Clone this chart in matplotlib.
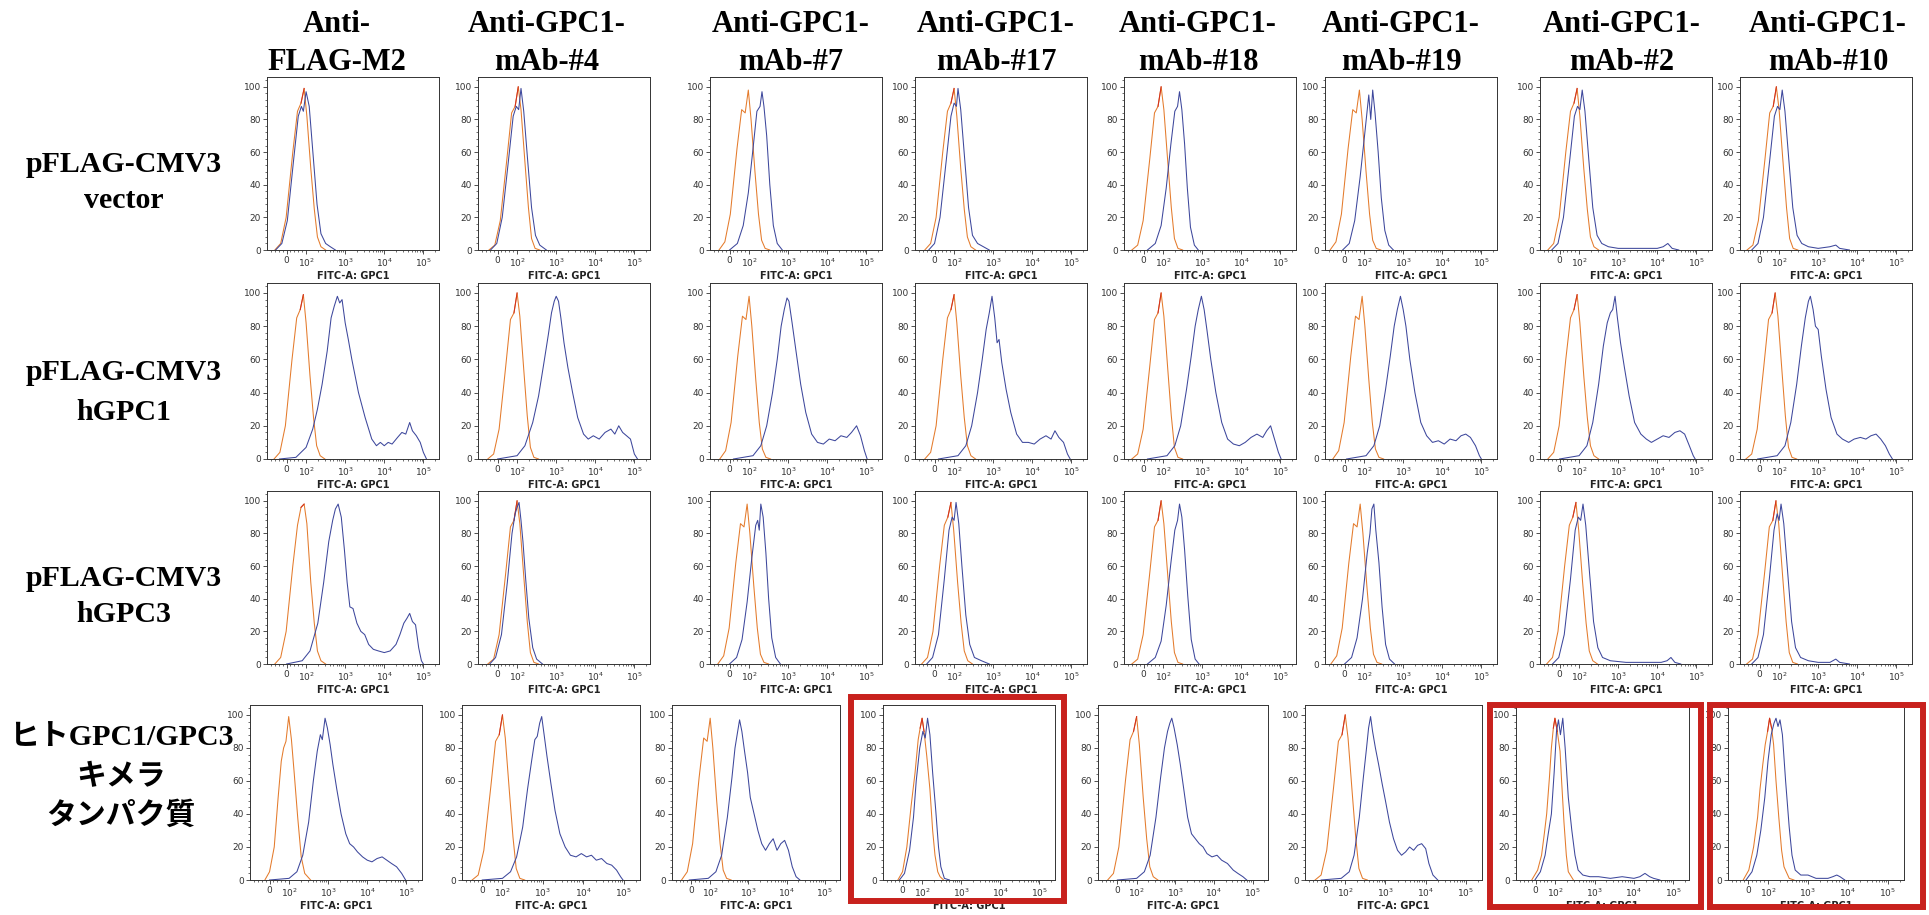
import matplotlib.pyplot as plt
import numpy as np
from matplotlib.patches import Rectangle
from matplotlib.ticker import FixedLocator, MultipleLocator

W, H = 1929, 915

# ---- texts ----
head_top = ['Anti-', 'Anti-GPC1-', 'Anti-GPC1-', 'Anti-GPC1-', 'Anti-GPC1-', 'Anti-GPC1-', 'Anti-GPC1-', 'Anti-GPC1-']
head_bottom = ['FLAG-M2', 'mAb-#4', 'mAb-#7', 'mAb-#17', 'mAb-#18', 'mAb-#19', 'mAb-#2', 'mAb-#10']
row_labels = [['pFLAG-CMV3', 'vector'],
              ['pFLAG-CMV3', 'hGPC1'],
              ['pFLAG-CMV3', 'hGPC3'],
              ['ヒトGPC1/GPC3', 'キメラ', 'タンパク質']]
x_label = 'FITC-A: GPC1'
x_tick_pos = [1.5, 2, 3, 4, 5]
x_tick_lab = ['0', '$10^2$', '$10^3$', '$10^4$', '$10^5$']

# ---- data: (x in decade display units, % of max) ----
# row 1 : pFLAG-CMV3 vector
r1_ctrl = [
    ([1.20, 1.35, 1.49, 1.66, 1.78, 1.87, 1.95, 2.02, 2.12, 2.21, 2.29, 2.38, 2.50], [0, 4, 20, 60, 85, 90, 99, 82, 50, 25, 8, 2, 0]),
    ([1.28, 1.43, 1.57, 1.74, 1.86, 1.95, 2.03, 2.10, 2.20, 2.29, 2.37, 2.46, 2.58], [0, 3, 18, 56, 84, 88, 100, 86, 54, 26, 7, 1, 0]),
    ([1.23, 1.38, 1.52, 1.69, 1.81, 1.90, 1.98, 2.05, 2.15, 2.24, 2.32, 2.41, 2.53], [0, 5, 22, 62, 86, 84, 98, 80, 48, 22, 6, 1, 0]),
    ([1.25, 1.40, 1.54, 1.71, 1.83, 1.92, 2.00, 2.07, 2.17, 2.26, 2.34, 2.43, 2.55], [0, 4, 20, 60, 85, 90, 99, 82, 50, 25, 8, 2, 0]),
    ([1.20, 1.35, 1.49, 1.66, 1.78, 1.87, 1.95, 2.02, 2.12, 2.21, 2.29, 2.38, 2.50], [0, 3, 18, 56, 84, 88, 100, 86, 54, 26, 7, 1, 0]),
    ([1.13, 1.28, 1.42, 1.59, 1.71, 1.80, 1.88, 1.95, 2.05, 2.14, 2.22, 2.31, 2.43], [0, 5, 22, 62, 86, 84, 98, 80, 48, 22, 6, 1, 0]),
    ([1.20, 1.35, 1.49, 1.66, 1.78, 1.87, 1.95, 2.02, 2.12, 2.21, 2.29, 2.38, 2.50], [0, 4, 20, 60, 85, 90, 99, 82, 50, 25, 8, 2, 0]),
    ([1.18, 1.33, 1.47, 1.64, 1.76, 1.85, 1.93, 2.00, 2.10, 2.19, 2.27, 2.36, 2.48], [0, 3, 18, 56, 84, 88, 100, 86, 54, 26, 7, 1, 0]),
]
r1_test = [
    ([1.22, 1.38, 1.52, 1.68, 1.80, 1.88, 1.93, 2.00, 2.08, 2.18, 2.28, 2.38, 2.50, 2.62, 2.75], [0, 4, 18, 55, 82, 88, 85, 97, 88, 58, 28, 10, 4, 2, 0]),
    ([1.32, 1.48, 1.62, 1.78, 1.90, 1.98, 2.04, 2.10, 2.17, 2.27, 2.37, 2.47, 2.58, 2.75], [0, 4, 20, 55, 82, 88, 86, 99, 85, 55, 26, 9, 3, 0]),
    ([1.50, 1.70, 1.85, 1.98, 2.10, 2.20, 2.28, 2.33, 2.38, 2.45, 2.53, 2.62, 2.72, 2.85], [0, 4, 15, 35, 62, 85, 88, 97, 88, 70, 40, 15, 4, 0]),
    ([1.35, 1.50, 1.64, 1.80, 1.92, 2.00, 2.06, 2.10, 2.17, 2.27, 2.37, 2.47, 2.60, 2.75, 2.90], [0, 4, 20, 55, 82, 90, 88, 99, 86, 56, 26, 9, 4, 2, 0]),
    ([1.60, 1.80, 1.95, 2.08, 2.20, 2.30, 2.37, 2.42, 2.48, 2.55, 2.62, 2.70, 2.80, 2.90], [0, 4, 15, 38, 65, 85, 88, 97, 86, 65, 38, 14, 3, 0]),
    ([1.45, 1.62, 1.76, 1.90, 2.02, 2.12, 2.17, 2.22, 2.28, 2.36, 2.44, 2.53, 2.63, 2.75], [0, 4, 18, 45, 72, 95, 80, 98, 84, 60, 32, 12, 3, 0]),
    ([1.30, 1.46, 1.60, 1.76, 1.88, 1.96, 2.02, 2.08, 2.15, 2.25, 2.35, 2.46, 2.58, 2.75, 3.00, 3.50, 4.00, 4.15, 4.27, 4.38, 4.55],
     [0, 4, 20, 55, 82, 88, 86, 98, 85, 55, 26, 9, 4, 2, 1, 1, 1, 2, 4, 1, 0]),
    ([1.30, 1.46, 1.60, 1.76, 1.88, 1.96, 2.02, 2.08, 2.15, 2.25, 2.35, 2.46, 2.58, 2.75, 3.00, 3.30, 3.45, 3.55, 3.80],
     [0, 4, 20, 55, 82, 88, 86, 98, 85, 55, 26, 9, 4, 2, 1, 2, 3, 1, 0]),
]

# row 2 : pFLAG-CMV3 hGPC1
r2_ctrl = [
    ([1.18, 1.33, 1.47, 1.64, 1.76, 1.85, 1.93, 2.00, 2.10, 2.19, 2.27, 2.36, 2.48], [0, 4, 20, 60, 85, 90, 99, 82, 50, 25, 8, 2, 0]),
    ([1.25, 1.40, 1.54, 1.71, 1.83, 1.92, 2.00, 2.07, 2.17, 2.26, 2.34, 2.43, 2.55], [0, 3, 18, 56, 84, 88, 100, 86, 54, 26, 7, 1, 0]),
    ([1.25, 1.40, 1.54, 1.71, 1.83, 1.92, 2.00, 2.07, 2.17, 2.26, 2.34, 2.43, 2.55], [0, 5, 22, 62, 86, 84, 98, 80, 48, 22, 6, 1, 0]),
    ([1.25, 1.40, 1.54, 1.71, 1.83, 1.92, 2.00, 2.07, 2.17, 2.26, 2.34, 2.43, 2.55], [0, 4, 20, 60, 85, 90, 99, 82, 50, 25, 8, 2, 0]),
    ([1.20, 1.35, 1.49, 1.66, 1.78, 1.87, 1.95, 2.02, 2.12, 2.21, 2.29, 2.38, 2.50], [0, 3, 18, 56, 84, 88, 100, 86, 54, 26, 7, 1, 0]),
    ([1.20, 1.35, 1.49, 1.66, 1.78, 1.87, 1.95, 2.02, 2.12, 2.21, 2.29, 2.38, 2.50], [0, 5, 22, 62, 86, 84, 98, 80, 48, 22, 6, 1, 0]),
    ([1.20, 1.35, 1.49, 1.66, 1.78, 1.87, 1.95, 2.02, 2.12, 2.21, 2.29, 2.38, 2.50], [0, 4, 20, 60, 85, 90, 99, 82, 50, 25, 8, 2, 0]),
    ([1.15, 1.30, 1.44, 1.61, 1.73, 1.82, 1.90, 1.97, 2.07, 2.16, 2.24, 2.33, 2.45], [0, 3, 18, 56, 84, 88, 100, 86, 54, 26, 7, 1, 0]),
]
r2_test = [
    ([1.32, 1.74, 2.00, 2.17, 2.29, 2.41, 2.54, 2.64, 2.72, 2.80, 2.86, 2.92, 3.00, 3.08, 3.17, 3.34, 3.51, 3.68, 3.80, 3.90, 4.00, 4.10, 4.20, 4.34, 4.45, 4.55, 4.65, 4.72, 4.82, 4.92, 5.00, 5.08],
     [0, 1, 7, 18, 30, 45, 65, 85, 92, 98, 94, 96, 82, 72, 60, 40, 25, 12, 8, 10, 8, 10, 9, 13, 16, 15, 22, 17, 14, 10, 4, 0]),
    ([1.50, 2.00, 2.20, 2.40, 2.55, 2.70, 2.80, 2.88, 2.95, 3.00, 3.06, 3.12, 3.20, 3.30, 3.42, 3.55, 3.70, 3.82, 3.95, 4.10, 4.25, 4.40, 4.50, 4.60, 4.70, 4.80, 4.90, 5.00, 5.08],
     [0, 2, 8, 22, 38, 60, 75, 88, 95, 98, 95, 85, 70, 55, 40, 25, 15, 12, 14, 12, 16, 18, 15, 20, 16, 14, 12, 3, 0]),
    ([1.60, 2.10, 2.30, 2.45, 2.60, 2.72, 2.82, 2.90, 2.97, 3.02, 3.10, 3.20, 3.32, 3.45, 3.60, 3.75, 3.90, 4.05, 4.20, 4.35, 4.50, 4.62, 4.75, 4.85, 4.95, 5.02],
     [0, 2, 8, 20, 40, 60, 80, 90, 97, 95, 82, 65, 45, 28, 15, 10, 9, 12, 11, 14, 13, 16, 20, 14, 5, 0]),
    ([1.60, 2.10, 2.30, 2.45, 2.60, 2.72, 2.82, 2.90, 2.97, 3.04, 3.10, 3.15, 3.22, 3.33, 3.45, 3.60, 3.75, 3.90, 4.05, 4.20, 4.35, 4.48, 4.58, 4.68, 4.80, 4.90, 4.97],
     [0, 2, 8, 20, 40, 60, 78, 88, 98, 85, 70, 72, 58, 42, 28, 15, 10, 10, 9, 12, 14, 12, 17, 13, 10, 3, 0]),
    ([1.60, 2.10, 2.30, 2.45, 2.60, 2.72, 2.82, 2.90, 2.98, 3.05, 3.12, 3.22, 3.35, 3.50, 3.65, 3.80, 3.95, 4.10, 4.25, 4.40, 4.55, 4.65, 4.75, 4.85, 4.95, 5.02],
     [0, 2, 8, 20, 42, 62, 80, 90, 98, 90, 78, 60, 40, 22, 12, 9, 8, 10, 13, 15, 13, 17, 20, 12, 4, 0]),
    ([1.55, 2.05, 2.25, 2.40, 2.55, 2.67, 2.77, 2.85, 2.93, 3.00, 3.07, 3.17, 3.30, 3.45, 3.60, 3.75, 3.90, 4.05, 4.20, 4.35, 4.48, 4.60, 4.72, 4.85, 4.95, 5.00],
     [0, 2, 8, 20, 42, 62, 80, 90, 98, 90, 80, 60, 40, 22, 14, 10, 11, 9, 12, 11, 14, 15, 13, 8, 2, 0]),
    ([1.50, 2.00, 2.20, 2.35, 2.50, 2.62, 2.72, 2.80, 2.86, 2.92, 2.98, 3.06, 3.16, 3.28, 3.42, 3.58, 3.72, 3.85, 4.00, 4.15, 4.30, 4.45, 4.58, 4.70, 4.82, 4.92, 4.97],
     [0, 2, 8, 22, 45, 68, 82, 88, 90, 98, 85, 70, 55, 38, 22, 15, 12, 10, 12, 14, 13, 16, 17, 15, 8, 2, 0]),
    ([1.45, 1.95, 2.15, 2.30, 2.45, 2.57, 2.67, 2.75, 2.80, 2.87, 2.93, 3.00, 3.08, 3.20, 3.33, 3.48, 3.62, 3.78, 3.92, 4.08, 4.22, 4.35, 4.48, 4.60, 4.72, 4.82, 4.90],
     [0, 2, 8, 22, 45, 68, 85, 95, 98, 90, 80, 78, 62, 42, 25, 15, 12, 10, 12, 13, 12, 14, 15, 12, 8, 3, 0]),
]

# row 3 : pFLAG-CMV3 hGPC3
r3_ctrl = [
    ([1.20, 1.35, 1.49, 1.66, 1.78, 1.87, 1.95, 2.02, 2.12, 2.21, 2.29, 2.38, 2.50], [0, 4, 20, 60, 85, 96, 98, 86, 50, 25, 8, 2, 0]),
    ([1.25, 1.40, 1.54, 1.71, 1.83, 1.92, 2.00, 2.07, 2.17, 2.26, 2.34, 2.43, 2.55], [0, 3, 18, 56, 84, 88, 100, 86, 54, 26, 7, 1, 0]),
    ([1.20, 1.35, 1.49, 1.66, 1.78, 1.87, 1.95, 2.02, 2.12, 2.21, 2.29, 2.38, 2.50], [0, 5, 22, 62, 86, 84, 98, 80, 48, 22, 6, 1, 0]),
    ([1.17, 1.32, 1.46, 1.63, 1.75, 1.84, 1.92, 1.99, 2.09, 2.18, 2.26, 2.35, 2.47], [0, 4, 20, 60, 85, 90, 99, 82, 50, 25, 8, 2, 0]),
    ([1.20, 1.35, 1.49, 1.66, 1.78, 1.87, 1.95, 2.02, 2.12, 2.21, 2.29, 2.38, 2.50], [0, 3, 18, 56, 84, 88, 100, 86, 54, 26, 7, 1, 0]),
    ([1.15, 1.30, 1.44, 1.61, 1.73, 1.82, 1.90, 1.97, 2.07, 2.16, 2.24, 2.33, 2.45], [0, 5, 22, 62, 86, 84, 98, 80, 48, 22, 6, 1, 0]),
    ([1.17, 1.32, 1.46, 1.63, 1.75, 1.84, 1.92, 1.99, 2.09, 2.18, 2.26, 2.35, 2.47], [0, 4, 20, 60, 85, 90, 99, 82, 50, 25, 8, 2, 0]),
    ([1.17, 1.32, 1.46, 1.63, 1.75, 1.84, 1.92, 1.99, 2.09, 2.18, 2.26, 2.35, 2.47], [0, 3, 18, 56, 84, 88, 100, 86, 54, 26, 7, 1, 0]),
]
r3_test = [
    ([1.50, 1.90, 2.10, 2.30, 2.45, 2.58, 2.68, 2.75, 2.82, 2.90, 2.98, 3.05, 3.12, 3.20, 3.30, 3.40, 3.50, 3.60, 3.72, 3.85, 4.00, 4.15, 4.30, 4.40, 4.50, 4.58, 4.65, 4.72, 4.80, 4.88, 4.95, 5.00],
     [0, 2, 8, 25, 50, 75, 88, 95, 98, 90, 70, 50, 35, 34, 25, 20, 18, 12, 9, 8, 7, 8, 12, 18, 25, 28, 31, 26, 24, 10, 2, 0]),
    ([1.30, 1.45, 1.60, 1.75, 1.87, 1.95, 2.00, 2.05, 2.10, 2.15, 2.22, 2.30, 2.40, 2.50, 2.65], [0, 4, 18, 50, 80, 92, 96, 99, 88, 75, 52, 28, 10, 3, 0]),
    ([1.50, 1.68, 1.82, 1.95, 2.07, 2.17, 2.22, 2.26, 2.30, 2.36, 2.43, 2.50, 2.58, 2.68, 2.80], [0, 4, 15, 38, 65, 85, 88, 82, 98, 90, 68, 40, 16, 4, 0]),
    ([1.30, 1.45, 1.60, 1.75, 1.87, 1.95, 2.00, 2.05, 2.12, 2.20, 2.30, 2.40, 2.52, 2.70, 2.90], [0, 4, 18, 52, 82, 90, 88, 99, 86, 60, 30, 12, 4, 2, 0]),
    ([1.60, 1.80, 1.95, 2.08, 2.20, 2.30, 2.37, 2.42, 2.48, 2.55, 2.63, 2.72, 2.82, 2.92], [0, 4, 14, 36, 62, 82, 88, 98, 90, 70, 42, 15, 3, 0]),
    ([1.50, 1.68, 1.82, 1.96, 2.08, 2.15, 2.20, 2.25, 2.30, 2.38, 2.46, 2.55, 2.65, 2.78], [0, 4, 16, 40, 68, 80, 95, 98, 82, 62, 35, 12, 3, 0]),
    ([1.32, 1.48, 1.62, 1.78, 1.90, 1.98, 2.04, 2.10, 2.17, 2.27, 2.37, 2.48, 2.60, 2.80, 3.20, 3.80, 4.10, 4.25, 4.35, 4.45, 4.60],
     [0, 4, 18, 52, 82, 90, 88, 98, 85, 55, 26, 10, 4, 2, 1, 1, 1, 2, 4, 1, 0]),
    ([1.30, 1.46, 1.60, 1.75, 1.87, 1.95, 2.00, 2.05, 2.12, 2.22, 2.32, 2.42, 2.55, 2.75, 3.00, 3.30, 3.45, 3.55, 3.80],
     [0, 4, 18, 52, 82, 92, 88, 98, 86, 56, 26, 10, 4, 2, 1, 1, 3, 1, 0]),
]

# row 4 : human GPC1/GPC3 chimera
r4_ctrl = [
    ([1.38, 1.50, 1.62, 1.72, 1.80, 1.86, 1.92, 1.99, 2.06, 2.13, 2.22, 2.31, 2.40, 2.55], [0, 5, 20, 50, 72, 80, 84, 99, 85, 65, 38, 14, 4, 0]),
    ([1.25, 1.40, 1.54, 1.71, 1.83, 1.92, 2.00, 2.07, 2.17, 2.26, 2.34, 2.43, 2.55], [0, 3, 18, 56, 84, 88, 100, 86, 54, 26, 7, 1, 0]),
    ([1.25, 1.40, 1.54, 1.71, 1.83, 1.92, 2.00, 2.07, 2.17, 2.26, 2.34, 2.43, 2.55], [0, 5, 22, 62, 86, 84, 98, 80, 48, 22, 6, 1, 0]),
    ([1.38, 1.50, 1.61, 1.72, 1.82, 1.90, 1.95, 2.00, 2.05, 2.12, 2.20, 2.27, 2.33, 2.40, 2.46, 2.55], [0, 5, 20, 45, 65, 85, 92, 98, 90, 75, 55, 30, 15, 5, 2, 0]),
    ([1.25, 1.40, 1.54, 1.71, 1.83, 1.92, 2.00, 2.07, 2.17, 2.26, 2.34, 2.43, 2.55], [0, 4, 20, 60, 85, 90, 99, 82, 50, 25, 8, 2, 0]),
    ([1.25, 1.40, 1.54, 1.71, 1.83, 1.92, 2.00, 2.07, 2.17, 2.26, 2.34, 2.43, 2.55], [0, 3, 18, 56, 84, 88, 100, 86, 54, 26, 7, 1, 0]),
    ([1.40, 1.55, 1.65, 1.72, 1.78, 1.85, 1.90, 1.95, 1.99, 2.05, 2.12, 2.16, 2.22, 2.28, 2.33, 2.46], [0, 6, 15, 28, 40, 62, 80, 92, 98, 90, 78, 60, 35, 15, 5, 0]),
    ([1.38, 1.52, 1.64, 1.74, 1.80, 1.87, 1.93, 1.99, 2.04, 2.09, 2.14, 2.20, 2.27, 2.34, 2.40, 2.53, 2.65], [0, 6, 20, 38, 55, 70, 82, 90, 98, 92, 82, 60, 38, 18, 8, 1, 0]),
]
r4_test = [
    ([1.50, 2.00, 2.20, 2.35, 2.50, 2.62, 2.72, 2.80, 2.85, 2.92, 2.98, 3.05, 3.12, 3.22, 3.33, 3.45, 3.55, 3.65, 3.75, 3.88, 4.00, 4.12, 4.25, 4.38, 4.50, 4.62, 4.75, 4.88, 4.98],
     [0, 1, 5, 15, 35, 60, 78, 88, 85, 98, 92, 82, 70, 55, 40, 28, 22, 20, 17, 14, 12, 11, 13, 14, 12, 10, 8, 4, 0]),
    ([1.50, 2.00, 2.20, 2.35, 2.50, 2.62, 2.72, 2.80, 2.86, 2.92, 2.97, 3.03, 3.10, 3.20, 3.30, 3.42, 3.55, 3.68, 3.82, 3.95, 4.08, 4.20, 4.32, 4.45, 4.58, 4.70, 4.82, 4.92, 4.98],
     [0, 1, 5, 14, 32, 55, 72, 85, 87, 95, 99, 88, 75, 58, 42, 28, 20, 15, 14, 16, 14, 15, 12, 13, 10, 9, 6, 2, 0]),
    ([1.45, 1.95, 2.15, 2.30, 2.45, 2.57, 2.65, 2.72, 2.77, 2.83, 2.90, 2.98, 3.05, 3.15, 3.25, 3.35, 3.45, 3.55, 3.65, 3.75, 3.85, 3.95, 4.05, 4.15, 4.25, 4.35],
     [0, 1, 5, 15, 38, 62, 80, 90, 97, 90, 78, 65, 50, 40, 30, 22, 18, 22, 25, 18, 22, 24, 18, 8, 2, 0]),
    ([1.42, 1.55, 1.68, 1.78, 1.85, 1.94, 2.02, 2.08, 2.14, 2.20, 2.27, 2.35, 2.42, 2.48, 2.57, 2.70], [0, 4, 18, 38, 60, 80, 90, 86, 98, 88, 65, 42, 20, 8, 1, 0]),
    ([1.50, 2.00, 2.20, 2.35, 2.50, 2.62, 2.72, 2.80, 2.86, 2.91, 2.97, 3.05, 3.13, 3.22, 3.32, 3.42, 3.52, 3.62, 3.72, 3.82, 3.95, 4.08, 4.20, 4.35, 4.50, 4.62, 4.75, 4.85],
     [0, 1, 5, 15, 38, 62, 80, 90, 95, 98, 92, 82, 70, 55, 38, 28, 25, 22, 20, 16, 14, 15, 12, 10, 6, 4, 2, 0]),
    ([1.40, 1.90, 2.10, 2.22, 2.35, 2.45, 2.53, 2.58, 2.63, 2.68, 2.75, 2.83, 2.92, 3.00, 3.10, 3.20, 3.30, 3.40, 3.50, 3.60, 3.70, 3.80, 3.90, 4.00, 4.08, 4.18, 4.30],
     [0, 1, 5, 15, 38, 62, 80, 92, 99, 90, 80, 70, 58, 48, 35, 25, 18, 15, 17, 20, 18, 21, 22, 19, 10, 3, 0]),
    ([1.48, 1.62, 1.74, 1.82, 1.90, 1.97, 2.03, 2.08, 2.13, 2.19, 2.25, 2.33, 2.42, 2.50, 2.58, 2.70, 2.88, 3.10, 3.40, 3.70, 4.00, 4.15, 4.28, 4.40, 4.50, 4.66],
     [0, 5, 15, 28, 40, 65, 90, 97, 88, 98, 80, 50, 30, 15, 6, 3, 2, 2, 1, 2, 1, 2, 4, 2, 1, 0]),
    ([1.45, 1.60, 1.72, 1.82, 1.92, 2.00, 2.08, 2.15, 2.20, 2.25, 2.30, 2.36, 2.44, 2.53, 2.60, 2.68, 2.82, 3.00, 3.20, 3.50, 3.62, 3.72, 3.80, 3.92],
     [0, 5, 15, 30, 50, 72, 88, 95, 98, 93, 97, 88, 60, 32, 15, 6, 3, 3, 1, 1, 2, 3, 2, 0]),
]

ctrl_rows = [r1_ctrl, r2_ctrl, r3_ctrl, r4_ctrl]
test_rows = [r1_test, r2_test, r3_test, r4_test]

# ---- layout in pixels ----
row_y0 = [250, 459, 664, 880]
row_top = [77, 283, 491, 705]
col_left = [[267, 478, 710, 915, 1124, 1325, 1540, 1740]] * 3 + [[250, 462, 672, 883, 1098, 1305, 1516, 1728]]
col_width = [[172] * 8] * 3 + [[172, 178, 168, 172, 170, 177, 173, 176]]
head_x = [337, 547, 791, 996, 1198, 1401, 1622, 1828]
label_y = [[164, 201], [373, 412], [578, 615], [738, 778, 816]]
frames = [(848, 694, 1067, 904), (1487, 702, 1704, 910), (1707, 702, 1926, 910)]

orange = '#e47b2c'
red = '#d2301e'
blue = '#3d479c'

fig = plt.figure(figsize=(W / 100, H / 100), dpi=100)

minor_x = [1.1, 1.2, 1.3, 1.4, 1.6, 1.7, 1.8, 1.9]
for k in (2, 3, 4):
    minor_x += [k + np.log10(m) for m in range(2, 10)]
minor_x += [5 + np.log10(2)]

for r in range(4):
    for c in range(8):
        left = col_left[r][c]
        w = col_width[r][c]
        ax = fig.add_axes([left / W, 1 - row_y0[r] / H, w / W, (row_y0[r] - row_top[r]) / H])
        cx, cy = ctrl_rows[r][c]
        tx, ty = test_rows[r][c]
        cy = np.array(cy, dtype=float)
        ax.plot(cx, cy, color=orange, lw=0.75)
        ax.plot(cx, np.where(cy >= 88, cy, np.nan), color=red, lw=0.75)
        ax.plot(tx, ty, color=blue, lw=0.75)
        ax.set_xlim(1.0, 5.4)
        ax.set_ylim(0, 106)
        ax.set_xticks(x_tick_pos)
        ax.set_xticklabels(x_tick_lab)
        ax.xaxis.set_minor_locator(FixedLocator(minor_x))
        ax.set_yticks([0, 20, 40, 60, 80, 100])
        ax.yaxis.set_minor_locator(MultipleLocator(4))
        ax.tick_params(which='major', length=3, width=0.6, labelsize=6.5, pad=1.5,
                       color='#333333', labelcolor='#333333')
        ax.tick_params(which='minor', length=1.6, width=0.5, color='#333333')
        for sp in ax.spines.values():
            sp.set_linewidth(0.7)
            sp.set_color('#333333')
        ax.set_xlabel(x_label, fontsize=7, fontweight='bold', labelpad=1.5, color='#222222')

# column headers
for c in range(8):
    fig.text(head_x[c] / W, 1 - 25 / H, head_top[c], ha='center', va='center',
             family='Liberation Serif', fontweight='bold', fontsize=22)
    fig.text(head_x[c] / W, 1 - 63 / H, head_bottom[c], ha='center', va='center',
             family='Liberation Serif', fontweight='bold', fontsize=22)

# row labels
for r in range(4):
    xc = 124 if r < 3 else 121
    for line, y in zip(row_labels[r], label_y[r]):
        fig.text(xc / W, 1 - y / H, line, ha='center', va='center',
                 family=['Liberation Serif', 'Noto Sans CJK JP'], fontweight='bold', fontsize=21.5)

# red highlight frames
for x0, y0, x1, y1 in frames:
    fig.add_artist(Rectangle(((x0 + 3) / W, 1 - (y1 - 3) / H), (x1 - x0 - 6) / W, (y1 - y0 - 6) / H,
                             transform=fig.transFigure, fill=False, ec='#c8211d', lw=4.3, zorder=5))

fig.savefig('out.png', dpi=100)
